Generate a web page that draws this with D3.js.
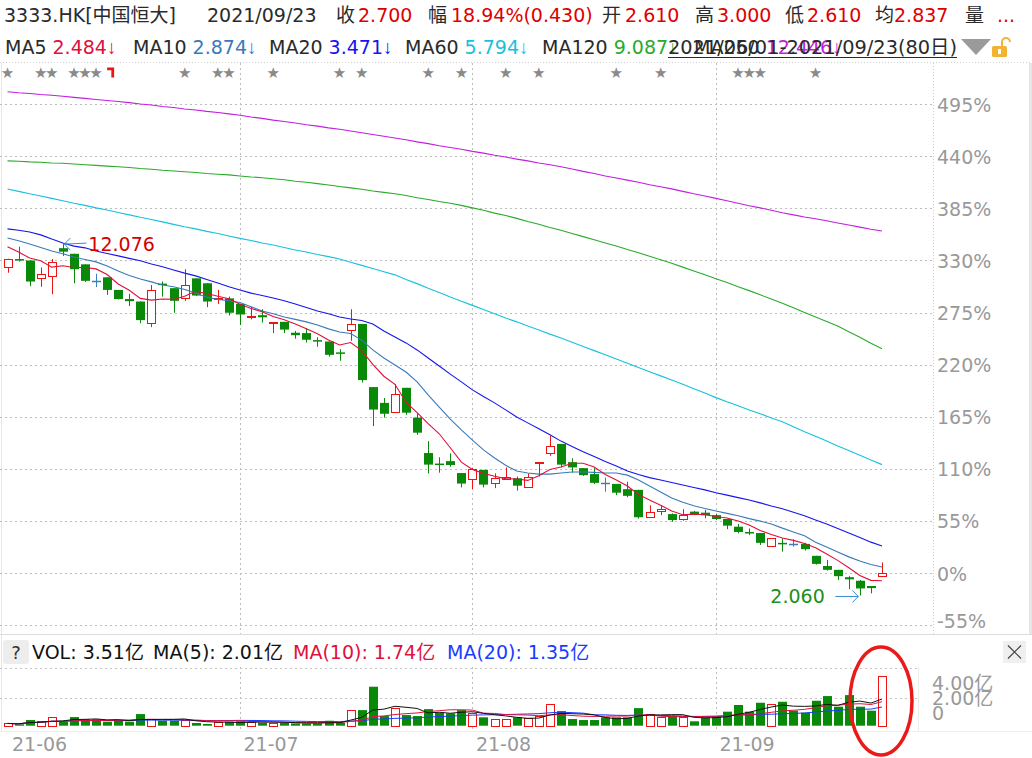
<!DOCTYPE html>
<html><head><meta charset="utf-8">
<script src="https://cdn.jsdelivr.net/npm/d3@7/dist/d3.min.js"></script>
<style>html,body{margin:0;padding:0;background:#fff;overflow:hidden}svg{display:block}</style>
</head><body>
<svg id="chart" width="1032" height="758"></svg>
<script>
// ---------------- data ----------------
const dates = [
 "2021-06-01","2021-06-02","2021-06-03","2021-06-04","2021-06-07","2021-06-08","2021-06-09","2021-06-10","2021-06-11","2021-06-15",
 "2021-06-16","2021-06-17","2021-06-18","2021-06-21","2021-06-22","2021-06-23","2021-06-24","2021-06-25","2021-06-28","2021-06-29",
 "2021-06-30","2021-07-02","2021-07-05","2021-07-06","2021-07-07","2021-07-08","2021-07-09","2021-07-12","2021-07-13","2021-07-14",
 "2021-07-15","2021-07-16","2021-07-19","2021-07-20","2021-07-21","2021-07-22","2021-07-23","2021-07-26","2021-07-27","2021-07-28",
 "2021-07-29","2021-07-30","2021-08-02","2021-08-03","2021-08-04","2021-08-05","2021-08-06","2021-08-09","2021-08-10","2021-08-11",
 "2021-08-12","2021-08-13","2021-08-16","2021-08-17","2021-08-18","2021-08-19","2021-08-20","2021-08-23","2021-08-24","2021-08-25",
 "2021-08-26","2021-08-27","2021-08-30","2021-08-31","2021-09-01","2021-09-02","2021-09-03","2021-09-06","2021-09-07","2021-09-08",
 "2021-09-09","2021-09-10","2021-09-13","2021-09-14","2021-09-15","2021-09-16","2021-09-17","2021-09-20","2021-09-21","2021-09-23"];
const open = [11.43,11.65,11.61,11.10,11.18,11.96,11.80,11.50,11.03,11.13,
 10.77,10.51,10.44,9.82,10.95,10.82,10.53,11.10,10.96,10.50,
 10.53,10.37,10.02,10.05,9.84,9.86,9.55,9.54,9.34,9.30,
 8.99,9.62,9.80,8.00,7.55,7.28,7.98,7.13,6.12,5.82,
 5.89,5.55,5.37,5.64,5.26,5.37,5.40,5.16,5.85,6.13,
 6.38,5.86,5.69,5.52,5.27,5.24,5.09,5.07,4.31,4.48,
 4.38,4.25,4.45,4.42,4.35,4.24,4.02,3.87,3.84,3.48,
 3.56,3.54,3.53,3.19,2.90,2.79,2.58,2.48,2.33,2.61];
const high = [11.66,12.00,11.61,11.41,11.65,12.076,11.80,11.50,11.23,11.13,
 10.77,10.66,10.44,10.91,11.01,10.82,11.36,11.10,10.96,10.77,
 10.58,10.37,10.29,10.22,9.85,9.86,9.60,9.68,9.42,9.30,
 9.08,10.22,9.80,8.00,7.69,8.09,7.98,7.25,6.46,6.00,
 6.11,5.55,5.70,5.64,5.54,5.71,5.45,5.54,5.86,6.61,
 6.38,5.97,5.69,5.69,5.42,5.24,5.30,5.07,4.63,4.64,
 4.40,4.52,4.47,4.50,4.38,4.24,4.10,3.97,3.84,3.69,
 3.69,3.66,3.56,3.19,3.07,2.79,2.61,2.50,2.33,3.00];
const low = [11.26,11.58,10.88,10.86,10.65,11.74,10.96,11.00,10.85,10.63,
 10.50,10.31,9.82,9.71,10.58,10.12,10.46,10.60,10.28,10.37,
 10.04,9.77,9.93,9.84,9.54,9.54,9.38,9.27,9.15,8.87,
 8.75,9.32,8.13,6.89,7.13,7.27,7.21,6.64,5.54,5.56,
 5.73,5.14,5.09,5.14,5.12,5.35,5.05,5.13,5.45,6.04,
 5.71,5.56,5.47,5.24,5.02,4.92,4.86,4.25,4.29,4.35,
 4.16,4.19,4.35,4.26,4.21,3.95,3.83,3.78,3.50,3.45,
 3.31,3.45,3.34,2.94,2.77,2.50,2.24,2.06,2.12,2.61];
const close = [11.65,11.61,11.01,11.23,11.58,11.86,11.36,11.03,11.03,10.77,
 10.51,10.45,9.91,10.77,10.91,10.46,10.91,10.61,10.44,10.54,
 10.12,10.07,10.04,9.99,9.85,9.64,9.48,9.35,9.30,8.92,
 8.97,9.80,8.20,7.36,7.24,7.80,7.27,6.70,5.79,5.79,
 5.78,5.25,5.66,5.22,5.41,5.43,5.19,5.45,5.86,6.32,
 5.79,5.71,5.49,5.27,5.27,4.99,4.90,4.29,4.45,4.52,
 4.21,4.35,4.38,4.35,4.24,4.05,3.87,3.84,3.56,3.69,
 3.54,3.54,3.38,2.96,2.79,2.61,2.52,2.26,2.27,2.70];
// volume in 亿 shares
const volume = [0.16,0.10,0.40,0.31,0.59,0.28,0.61,0.45,0.45,0.28,
 0.35,0.28,0.82,0.45,0.35,0.35,0.40,0.19,0.12,0.23,
 0.28,0.31,0.28,0.21,0.21,0.21,0.16,0.16,0.16,0.35,
 0.21,1.10,1.10,2.75,0.68,1.22,0.75,0.68,1.17,0.92,
 0.87,1.10,0.87,0.59,0.45,0.45,0.59,0.52,0.68,1.53,
 1.03,0.47,0.40,0.40,0.59,0.59,0.59,1.24,0.80,0.59,
 0.68,0.59,0.31,0.59,0.68,0.99,1.46,0.99,1.62,1.53,
 1.69,1.06,0.92,1.76,2.09,1.34,2.16,1.34,1.06,3.51];
const ma5 = [12.00,11.85,11.68,11.60,11.42,11.46,11.41,11.41,11.37,11.21,
 10.94,10.76,10.53,10.48,10.51,10.50,10.59,10.73,10.67,10.59,
 10.52,10.36,10.24,10.15,10.01,9.92,9.80,9.66,9.52,9.34,
 9.20,9.27,9.04,8.65,8.31,8.08,7.57,7.27,6.96,6.67,
 6.27,5.86,5.65,5.54,5.46,5.39,5.38,5.34,5.47,5.65,
 5.72,5.83,5.83,5.72,5.51,5.35,5.18,4.94,4.78,4.63,
 4.47,4.36,4.38,4.36,4.31,4.27,4.18,4.07,3.91,3.80,
 3.70,3.63,3.54,3.42,3.24,3.06,2.85,2.63,2.49,2.48];
const ma10 = [12.25,12.17,12.08,11.98,11.88,11.80,11.71,11.64,11.57,11.45,
 11.31,11.18,11.08,11.00,10.91,10.86,10.78,10.68,10.56,10.50,
 10.46,10.41,10.29,10.17,10.09,10.00,9.93,9.86,9.77,9.66,
 9.57,9.53,9.34,9.06,8.83,8.63,8.43,8.15,7.78,7.43,
 7.09,6.78,6.49,6.21,5.98,5.77,5.61,5.55,5.52,5.52,
 5.55,5.58,5.58,5.57,5.55,5.55,5.49,5.35,5.18,5.01,
 4.84,4.72,4.62,4.54,4.47,4.40,4.33,4.25,4.18,4.10,
 3.98,3.87,3.76,3.58,3.44,3.30,3.16,3.04,2.94,2.87];
const ma20 = [12.51,12.47,12.42,12.34,12.22,12.11,12.02,11.97,11.88,11.81,
 11.74,11.67,11.60,11.51,11.43,11.34,11.25,11.17,11.07,10.97,
 10.86,10.77,10.68,10.61,10.54,10.46,10.37,10.27,10.17,10.09,
 10.00,9.94,9.90,9.80,9.60,9.43,9.26,9.06,8.83,8.60,
 8.37,8.15,7.92,7.73,7.55,7.35,7.15,6.98,6.81,6.64,
 6.46,6.31,6.16,6.02,5.88,5.75,5.61,5.51,5.42,5.35,
 5.28,5.21,5.14,5.07,4.99,4.92,4.85,4.78,4.70,4.61,
 4.53,4.43,4.33,4.21,4.10,3.97,3.84,3.71,3.58,3.47];
const ma60 = [13.65,13.58,13.51,13.45,13.38,13.31,13.24,13.18,13.11,13.05,
 12.98,12.91,12.84,12.78,12.71,12.64,12.57,12.51,12.44,12.38,
 12.31,12.24,12.18,12.11,12.05,11.98,11.91,11.85,11.78,11.72,
 11.65,11.56,11.47,11.38,11.29,11.20,11.07,10.95,10.82,10.70,
 10.57,10.45,10.33,10.21,10.09,9.97,9.86,9.74,9.63,9.51,
 9.40,9.28,9.16,9.04,8.92,8.80,8.68,8.56,8.44,8.32,
 8.20,8.08,7.95,7.83,7.70,7.58,7.47,7.35,7.24,7.12,
 7.01,6.87,6.73,6.60,6.46,6.32,6.19,6.06,5.92,5.79];
const ma120 = [14.45,14.44,14.42,14.41,14.39,14.38,14.36,14.34,14.32,14.30,
 14.28,14.26,14.23,14.21,14.18,14.16,14.14,14.12,14.09,14.07,
 14.05,14.02,13.99,13.97,13.94,13.91,13.87,13.84,13.80,13.76,
 13.72,13.68,13.64,13.59,13.55,13.51,13.46,13.40,13.35,13.29,
 13.24,13.18,13.11,13.04,12.96,12.89,12.81,12.72,12.64,12.55,
 12.47,12.38,12.29,12.20,12.11,12.02,11.92,11.83,11.73,11.63,
 11.53,11.42,11.31,11.20,11.09,10.98,10.86,10.75,10.63,10.51,
 10.39,10.26,10.13,10.00,9.87,9.74,9.58,9.42,9.25,9.09];
const ma250 = [16.42,16.39,16.37,16.34,16.32,16.29,16.26,16.23,16.20,16.17,
 16.14,16.11,16.07,16.04,16.00,15.97,15.93,15.90,15.86,15.83,
 15.79,15.75,15.70,15.66,15.61,15.57,15.53,15.48,15.44,15.39,
 15.35,15.30,15.25,15.20,15.15,15.10,15.05,14.99,14.94,14.88,
 14.83,14.78,14.72,14.67,14.61,14.56,14.50,14.45,14.39,14.34,
 14.28,14.22,14.15,14.09,14.02,13.96,13.90,13.84,13.77,13.71,
 13.65,13.58,13.51,13.45,13.38,13.31,13.24,13.17,13.11,13.04,
 12.97,12.91,12.85,12.80,12.74,12.68,12.62,12.56,12.50,12.45];
const pctTicks = [495,440,385,330,275,220,165,110,55,0,-55];
const volTickLabels = ["4.00亿","2.00亿","0"];
const starIdx = [0,3,4,6,7,8,16,19,20,24,30,32,38,41,45,48,55,59,66,67,68,73];
const flagIdx = [9];
const maxIdx = 5, minIdx = 77;

// ---------------- setup ----------------
const FONT = '"DejaVu Sans","Noto Sans CJK SC",sans-serif';
const RED = "#ee1414", GREEN = "#088a08", FLAT = "#3a7db8";
const svg = d3.select("#chart").style("font-family", FONT);
const base = close[close.length - 1];
const x = d3.scalePoint().domain(d3.range(dates.length)).range([7.5, 882]);
const yPct = d3.scaleLinear().domain([-55, 495]).range([625.1, 104.2]);
const yP = p => yPct((p / base - 1) * 100);
const yV = d3.scaleLinear().domain([0, 4]).range([725.7, 669]);
const PR = 933; // price plot right edge

function txt(xp, yp, s, color, size, extra) {
  const t = svg.append("text").attr("x", xp).attr("y", yp).attr("fill", color)
    .attr("font-size", size || 19).text(s);
  if (extra) extra(t);
  return t;
}

// ---------------- grid / frame ----------------
svg.append("line").attr("x1", 0).attr("x2", 1032).attr("y1", 62.5).attr("y2", 62.5)
  .attr("stroke", "#cfcfcf").attr("stroke-dasharray", "1,2");
svg.append("line").attr("x1", 1.5).attr("x2", 1.5).attr("y1", 63).attr("y2", 731).attr("stroke", "#e6e6e6");
svg.append("rect").attr("x", 1029).attr("y", 63).attr("width", 3).attr("height", 572).attr("fill", "#e6e6e6");
pctTicks.forEach(t => {
  const yy = Math.round(yPct(t)) + 0.5;
  svg.append("line").attr("x1", 0).attr("x2", PR).attr("y1", yy).attr("y2", yy)
    .attr("stroke", "#bdbdbd").attr("stroke-dasharray", "2,3");
  txt(937, Math.min(yPct(t), 620) + 7.5, t + "%", "#999", 19);
});
svg.append("line").attr("x1", PR + 0.5).attr("x2", PR + 0.5).attr("y1", 63).attr("y2", 634)
  .attr("stroke", "#cfcfcf").attr("stroke-dasharray", "1,2");

// month lines + labels
const monthStarts = dates.map((d, i) => i).filter(i => i === 0 || dates[i].slice(5, 7) !== dates[i - 1].slice(5, 7));
monthStarts.forEach(i => {
  const xx = Math.round(x(i)) + 0.5;
  if (i > 0) {
    svg.append("line").attr("x1", xx).attr("x2", xx).attr("y1", 63).attr("y2", 634)
      .attr("stroke", "#bdbdbd").attr("stroke-dasharray", "2,3");
    svg.append("line").attr("x1", xx).attr("x2", xx).attr("y1", 667).attr("y2", 731)
      .attr("stroke", "#bdbdbd").attr("stroke-dasharray", "2,3");
  }
  txt(x(i) + (i === 0 ? 4.5 : 3.5), 751, dates[i].slice(2, 4) + "-" + dates[i].slice(5, 7), "#999", 19);
});

// stars row
starIdx.forEach(i => txt(x(i), 77.5, "★", "#8a8a8a", 15, t => t.attr("text-anchor", "middle")));
flagIdx.forEach(i => {
  const fx = x(i);
  svg.append("path").attr("d", `M${fx},67.5 H${fx + 7} V77.5 H${fx + 4.2} V70.3 H${fx} Z`).attr("fill", RED);
});

// ---------------- candles ----------------
const gC = svg.append("g");
const kinds = close.map((c, i) => {
  const o = open[i], prev = i > 0 ? close[i - 1] : o;
  if (c > o) return "up";
  if (c < o) return "down";
  return c > prev ? "up" : (c < prev ? "down" : "flat");
});
dates.forEach((d, i) => {
  const cx = Math.round(x(i)) + 0.5;
  const o = open[i], c = close[i], h = high[i], l = low[i], k = kinds[i];
  const yo = yP(o), yc = yP(c), yh = yP(h), yl = yP(l);
  if (k === "up" && c !== o) {
    const top = Math.round(yc) + 0.5, bot = Math.max(Math.round(yo) + 0.5, top + 1);
    gC.append("line").attr("x1", cx).attr("x2", cx).attr("y1", yh).attr("y2", top).attr("stroke", RED);
    gC.append("line").attr("x1", cx).attr("x2", cx).attr("y1", bot).attr("y2", yl).attr("stroke", RED);
    gC.append("rect").attr("x", cx - 4).attr("y", top).attr("width", 8).attr("height", bot - top)
      .attr("fill", "#fff").attr("stroke", RED);
  } else if (k === "down" && c !== o) {
    gC.append("line").attr("x1", cx).attr("x2", cx).attr("y1", yh).attr("y2", yl).attr("stroke", GREEN);
    gC.append("rect").attr("x", cx - 4.5).attr("y", yo).attr("width", 9).attr("height", Math.max(1.5, yc - yo))
      .attr("fill", GREEN);
  } else {
    const col = k === "up" ? RED : (k === "down" ? GREEN : FLAT);
    gC.append("line").attr("x1", cx).attr("x2", cx).attr("y1", yh).attr("y2", yl).attr("stroke", col);
    gC.append("line").attr("x1", cx - 4.5).attr("x2", cx + 4.5).attr("y1", Math.round(yc) + 0.5).attr("y2", Math.round(yc) + 0.5)
      .attr("stroke", col).attr("stroke-width", 1.5);
  }
});

// ---------------- MA lines ----------------
const maDefs = [[ma250, "#c21ee0"], [ma120, "#2aab2a"], [ma60, "#17c1dc"], [ma20, "#1414f0"], [ma10, "#3a7ab8"], [ma5, "#e0103c"]];
maDefs.forEach(([arr, col]) => {
  svg.append("path").datum(arr)
    .attr("d", d3.line().x((d, i) => x(i)).y(d => yP(d)))
    .attr("fill", "none").attr("stroke", col).attr("stroke-width", 1.1);
});

// annotations max / min
{
  const ax = x(maxIdx) + 1.5, ay = yP(high[maxIdx]);
  const A = "#3c8cc8";
  svg.append("path").attr("d", `M${ax + 22},${ay - 1} L${ax},${ay} M${ax + 6},${ay - 6} L${ax},${ay} L${ax + 6},${ay + 6}`)
    .attr("fill", "none").attr("stroke", A);
  txt(ax + 24, ay + 7, high[maxIdx].toFixed(3), "#d40000", 19);
  const bx = x(minIdx) - 1.5, by = yP(low[minIdx]) + 1;
  svg.append("path").attr("d", `M${bx - 23},${by} L${bx},${by} M${bx - 6},${by - 6} L${bx},${by} L${bx - 6},${by + 6}`)
    .attr("fill", "none").attr("stroke", A);
  txt(bx - 88, by + 7, low[minIdx].toFixed(3), "#1d8f1d", 19);
}

// ---------------- volume panel ----------------
svg.append("line").attr("x1", 0).attr("x2", 1032).attr("y1", 634.5).attr("y2", 634.5).attr("stroke", "#dcdcdc");
[668, 698].forEach(yy => svg.append("line").attr("x1", 0).attr("x2", 918).attr("y1", yy + 0.5).attr("y2", yy + 0.5)
  .attr("stroke", "#c4c4c4").attr("stroke-dasharray", "2,3"));
svg.append("line").attr("x1", 918.5).attr("x2", 918.5).attr("y1", 667).attr("y2", 731).attr("stroke", "#ececec");
svg.append("line").attr("x1", 0).attr("x2", 1032).attr("y1", 731.5).attr("y2", 731.5).attr("stroke", "#eeeeee");

const gV = svg.append("g");
volume.forEach((v, i) => {
  const cx = Math.round(x(i)) + 0.5, yt = yV(v), yb = yV(0);
  if (kinds[i] === "up") {
    gV.append("rect").attr("x", cx - 4).attr("y", Math.round(yt) + 0.5).attr("width", 8)
      .attr("height", Math.max(1, Math.round(yb) - Math.round(yt))).attr("fill", "#fff").attr("stroke", RED);
  } else {
    gV.append("rect").attr("x", cx - 4.5).attr("y", yt).attr("width", 9).attr("height", yb - yt)
      .attr("fill", GREEN);
  }
});
function rolling(arr, n) { return arr.map((d, i) => d3.mean(arr.slice(Math.max(0, i - n + 1), i + 1))); }
[[rolling(volume, 20), "#1a3cff"], [rolling(volume, 10), "#e0103c"], [rolling(volume, 5), "#111"]].forEach(([arr, col]) => {
  svg.append("path").datum(arr).attr("d", d3.line().x((d, i) => x(i)).y(d => yV(d)))
    .attr("fill", "none").attr("stroke", col).attr("stroke-width", 1);
});
volTickLabels.forEach((s, k) => txt(932, [690, 705, 720][k], s, "#999", 19));

// volume header
svg.append("rect").attr("x", 3).attr("y", 640).attr("width", 26).attr("height", 24).attr("rx", 3).attr("fill", "#ededed");
txt(16, 659, "?", "#333", 18, t => t.attr("text-anchor", "middle"));
txt(32, 659, "VOL: 3.51亿", "#111", 19);
txt(153, 659, "MA(5): 2.01亿", "#111", 19);
txt(293, 659, "MA(10): 1.74亿", "#e0103c", 19);
txt(447, 659, "MA(20): 1.35亿", "#1a3cff", 19);
svg.append("rect").attr("x", 1003).attr("y", 641).attr("width", 23).attr("height", 22).attr("fill", "#efefef");
svg.append("path").attr("d", "M1008,645.5 L1021,658.5 M1021,645.5 L1008,658.5").attr("stroke", "#444").attr("stroke-width", 1.2);

// highlight ellipse
svg.append("ellipse").attr("cx", x(79) - 1).attr("cy", 701).attr("rx", 31).attr("ry", 54)
  .attr("fill", "none").attr("stroke", "#ea1a1a").attr("stroke-width", 3.5);

// ---------------- header ----------------
const DK = "#2a2a2a", HR = "#dd0000";
txt(4, 22, "3333.HK[中国恒大]", DK);
txt(207, 22, "2021/09/23", DK);
txt(336, 22, "收", DK); txt(358, 22, close[79].toFixed(3), HR);
txt(428, 22, "幅", DK); txt(451, 22, "18.94%(0.430)", HR);
txt(602, 22, "开", DK); txt(625, 22, open[79].toFixed(3), HR);
txt(695, 22, "高", DK); txt(717, 22, high[79].toFixed(3), HR);
txt(785, 22, "低", DK); txt(807, 22, low[79].toFixed(3), HR);
txt(875, 22, "均", DK); txt(894, 22, "2.837", HR);
txt(965, 22, "量", DK); txt(997, 22, "...", HR);

function maText(xp, label, val, col) {
  const t = txt(xp, 54, "", DK);
  t.append("tspan").text(label + " ");
  t.append("tspan").attr("fill", col).text(val);
  t.append("tspan").attr("fill", col).attr("font-family", '"Noto Sans",sans-serif').text("↓");
}
maText(5, "MA5", "2.484", "#e0103c");
maText(133, "MA10", "2.874", "#3a7ab8");
maText(269, "MA20", "3.471", "#1414f0");
maText(405, "MA60", "5.794", "#17c1dc");
maText(542, "MA120", "9.087", "#2aab2a");
maText(694, "MA250", "12.446", "#c21ee0");
txt(668, 54, "2021/06/01-2021/09/23(80日)", DK, 19, t => t.attr("textLength", 289).attr("lengthAdjust", "spacingAndGlyphs"));
svg.append("line").attr("x1", 668).attr("x2", 957).attr("y1", 57.5).attr("y2", 57.5).attr("stroke", DK);
svg.append("path").attr("d", "M961,39 L991,39 L976,55 Z").attr("fill", "#9a9a9a");
svg.append("rect").attr("x", 992).attr("y", 46).attr("width", 15).attr("height", 11).attr("rx", 1.5).attr("fill", "#f2b233");
svg.append("rect").attr("x", 998).attr("y", 49).attr("width", 3).attr("height", 5).attr("fill", "#fff");
svg.append("path").attr("d", "M1002,46 V42 a4,4 0 0 1 8,0").attr("fill", "none").attr("stroke", "#f2b233").attr("stroke-width", 2);
</script>
</body></html>
